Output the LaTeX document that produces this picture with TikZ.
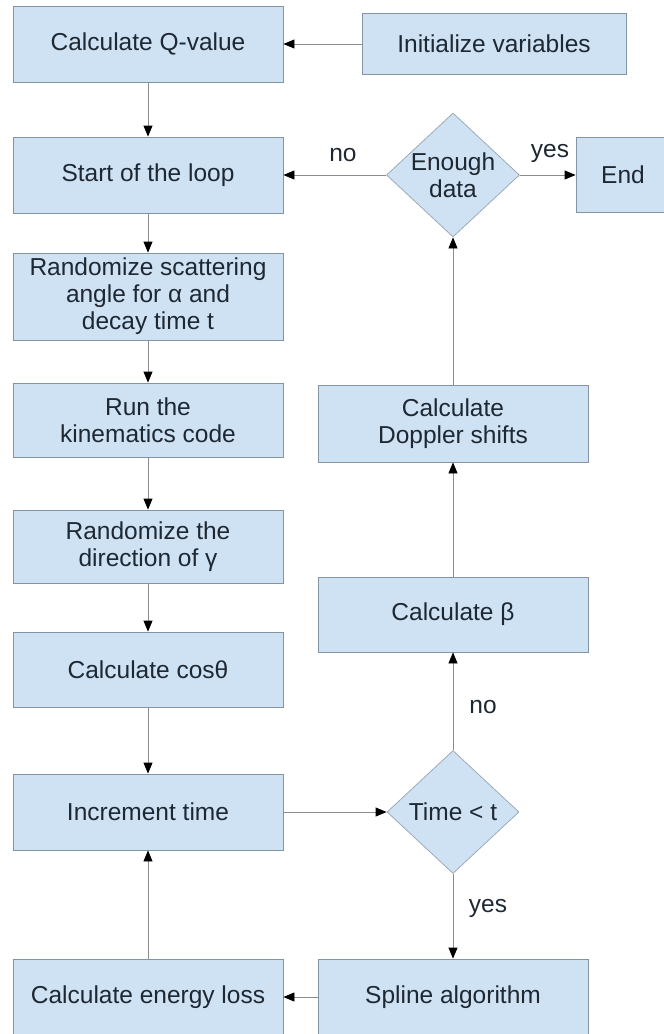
\documentclass[tikz,border=0pt]{standalone}
\usepackage{fontspec}
\setmainfont{Liberation Sans}
\usepackage{tikz}
\usetikzlibrary{arrows.meta,shapes.geometric}
\definecolor{boxfill}{HTML}{CFE2F3}
\definecolor{boxline}{HTML}{8395A5}
\definecolor{wire}{HTML}{8C8C8C}
\definecolor{ink}{HTML}{1E2833}

\tikzset{
  stepbox/.style={rectangle,fill=boxfill,draw=boxline,line width=0.8pt,text=ink,align=center,inner sep=0pt,minimum width=270pt},
  decision/.style={diamond,fill=boxfill,draw=boxline!80,line width=0.8pt,text=ink,align=center,inner sep=0pt,aspect=1.07,minimum width=133pt,minimum height=124pt},
  flow/.style={draw=wire,line width=0.8pt,-{Triangle[length=11pt,width=9pt,black]}},
  lbl/.style={text=ink}
}

\begin{document}
\begin{tikzpicture}[x=1pt,y=-1pt,font=\fontsize{24.5}{27}\selectfont]
\useasboundingbox (0,0) rectangle (664,1034);
\clip (0,0) rectangle (664,1034);
\node[stepbox,minimum height=76pt] (qval) at (148,44) {Calculate Q-value};
\node[stepbox,minimum width=264pt,minimum height=61pt] (init) at (494,44) {Initialize variables};
\node[stepbox,minimum height=76pt] (loop) at (148,175) {Start of the loop};
\node[decision] (enough) at (453,175) {Enough\\data};
\node[stepbox,minimum width=94pt,minimum height=75pt] (fin) at (623,175) {End};
\node[stepbox,minimum height=87pt] (scatter) at (148,296.5) {Randomize scattering\\angle for α and\\decay time t};
\node[stepbox,minimum height=74pt] (kin) at (148,420) {Run the\\kinematics code};
\node[stepbox,minimum height=73pt] (gdir) at (148,546.5) {Randomize the\\direction of γ};
\node[stepbox,minimum height=75pt] (cosq) at (148,669.5) {Calculate cosθ};
\node[stepbox,minimum height=76pt] (incr) at (148,812) {Increment time};
\node[stepbox,minimum height=76pt] (eloss) at (148,997) {Calculate energy loss};
\node[stepbox,minimum height=76pt] (spline) at (453,997) {Spline algorithm};
\node[decision,minimum width=132pt,minimum height=123pt] (tchk) at (453,812) {Time < t};
\node[stepbox,minimum height=75pt] (beta) at (453,614.5) {Calculate β};
\node[stepbox,minimum height=77pt] (doppler) at (453,423.5) {Calculate\\Doppler shifts};

\draw[flow] (init) -- (qval);
\draw[flow] (qval) -- (loop);
\draw[flow] (loop) -- (scatter);
\draw[flow] (scatter) -- (kin);
\draw[flow] (kin) -- (gdir);
\draw[flow] (gdir) -- (cosq);
\draw[flow] (cosq) -- (incr);
\draw[flow] (incr) -- (tchk);
\draw[flow] (tchk) -- (beta);
\draw[flow] (tchk) -- (spline);
\draw[flow] (spline) -- (eloss);
\draw[flow] (eloss) -- (incr);
\draw[flow] (beta) -- (doppler);
\draw[flow] (doppler) -- (enough);
\draw[flow] (enough) -- (loop);
\draw[flow] (enough) -- (fin);

\node[lbl] (no1) at (343,155) {no};
\node[lbl] (yes1) at (550,153) {yes};
\node[lbl] (no2) at (483,707) {no};
\node[lbl] (yes2) at (488,908) {yes};
\end{tikzpicture}
\end{document}
